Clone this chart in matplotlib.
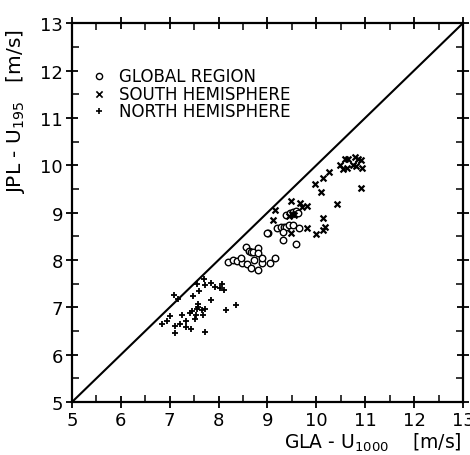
import matplotlib
matplotlib.use('Agg')
import matplotlib.pyplot as plt
from matplotlib.ticker import MultipleLocator

# GLA-U1000 (x) vs JPL-U195 (y)
global_x = [8.56, 8.63, 8.66, 8.71, 8.80, 8.81, 8.20, 8.30, 8.37, 8.48, 8.59, 8.73,
            8.88, 8.89, 9.05, 9.15, 8.67, 8.81, 9.01, 9.20, 9.27, 9.34, 9.39, 9.44,
            9.53, 9.64, 9.31, 9.31, 9.58, 9.38, 9.46, 9.53, 9.58, 9.63, 8.99, 8.45]
global_y = [8.28, 8.19, 8.16, 8.17, 8.26, 8.14, 7.96, 8.00, 7.98, 7.94, 7.91, 8.00,
            7.94, 8.05, 7.94, 8.05, 7.84, 7.78, 8.57, 8.68, 8.70, 8.70, 8.70, 8.73,
            8.73, 8.68, 8.60, 8.43, 8.33, 8.95, 8.99, 9.01, 9.04, 8.99, 8.58, 8.05]

south_x = [10.58, 10.65, 10.79, 10.86, 10.92, 10.48, 10.54, 10.62, 10.75, 10.81,
           10.93, 10.26, 10.13, 9.98, 10.09, 10.91, 10.43, 10.14, 10.17, 9.99,
           9.81, 9.80, 9.70, 9.49, 9.66, 9.15, 9.12, 9.50, 9.45, 9.55, 9.49, 10.14]
south_y = [10.14, 10.14, 10.18, 10.14, 10.11, 10.00, 9.93, 9.95, 10.00, 9.99,
           9.95, 9.86, 9.73, 9.60, 9.44, 9.51, 9.18, 8.89, 8.70, 8.54,
           8.68, 9.13, 9.11, 9.25, 9.20, 9.06, 8.85, 8.97, 8.92, 8.95, 8.58, 8.64]

north_x = [7.09, 7.17, 7.55, 7.70, 7.60, 7.73, 7.84, 7.92, 8.07, 8.03, 8.11, 7.48,
           7.84, 8.16, 8.35, 7.58, 7.58, 7.55, 7.45, 7.41, 7.67, 7.72, 7.69, 7.54,
           7.52, 7.25, 7.33, 7.01, 6.95, 6.85, 7.11, 7.21, 7.33, 7.44, 7.11, 7.73]
north_y = [7.26, 7.17, 7.49, 7.59, 7.35, 7.47, 7.52, 7.42, 7.49, 7.40, 7.36, 7.23,
           7.16, 6.94, 7.05, 7.07, 7.00, 6.96, 6.93, 6.89, 6.95, 6.96, 6.84, 6.84,
           6.75, 6.84, 6.72, 6.81, 6.72, 6.65, 6.60, 6.65, 6.58, 6.54, 6.46, 6.49]

legend_labels = ['GLOBAL REGION', 'SOUTH HEMISPHERE', 'NORTH HEMISPHERE']

fig = plt.figure(figsize=(4.70, 4.56), dpi=100)
ax = fig.add_axes([0.153, 0.116, 0.832, 0.831])

ax.plot([5, 13], [5, 13], color='black', lw=1.5)
ax.scatter(global_x, global_y, s=22, facecolors='white', edgecolors='black', linewidths=1.0, zorder=3)
ax.scatter(south_x, south_y, s=18, marker='x', color='black', linewidths=1.6, zorder=3)
ax.scatter(north_x, north_y, s=22, marker='+', color='black', linewidths=1.3, zorder=3)

# legend drawn by hand like the original
markers = ['o', 'x', '+']
for i, (lab, m) in enumerate(zip(legend_labels, markers)):
    yy = 11.88 - i * 0.37
    if m == 'o':
        ax.scatter([5.55], [yy], s=20, facecolors='white', edgecolors='black', linewidths=1.0)
    else:
        ax.scatter([5.55], [yy], s=20, marker=m, color='black', linewidths=1.2)
    ax.text(5.97, yy, lab, fontsize=12, va='center', ha='left')

ax.set_xlim(5, 13)
ax.set_ylim(5, 13)
ax.xaxis.set_major_locator(MultipleLocator(1))
ax.yaxis.set_major_locator(MultipleLocator(1))
ax.xaxis.set_minor_locator(MultipleLocator(0.5))
ax.yaxis.set_minor_locator(MultipleLocator(0.5))
ax.tick_params(which='major', direction='inout', length=9, width=1.3, labelsize=13,
               top=True, right=True, pad=2)
ax.tick_params(which='minor', direction='in', length=5, width=1.1, top=True, right=True)
for sp in ax.spines.values():
    sp.set_linewidth(1.6)

fig.text(0.983, 0.004, r'GLA - U$_{1000}$    [m/s]', fontsize=13.5, ha='right', va='bottom')
ax.set_ylabel(r'JPL - U$_{195}$   [m/s]', fontsize=14.5)
ax.yaxis.set_label_coords(-0.115, 0.77)

fig.savefig('out.png', dpi=100)
